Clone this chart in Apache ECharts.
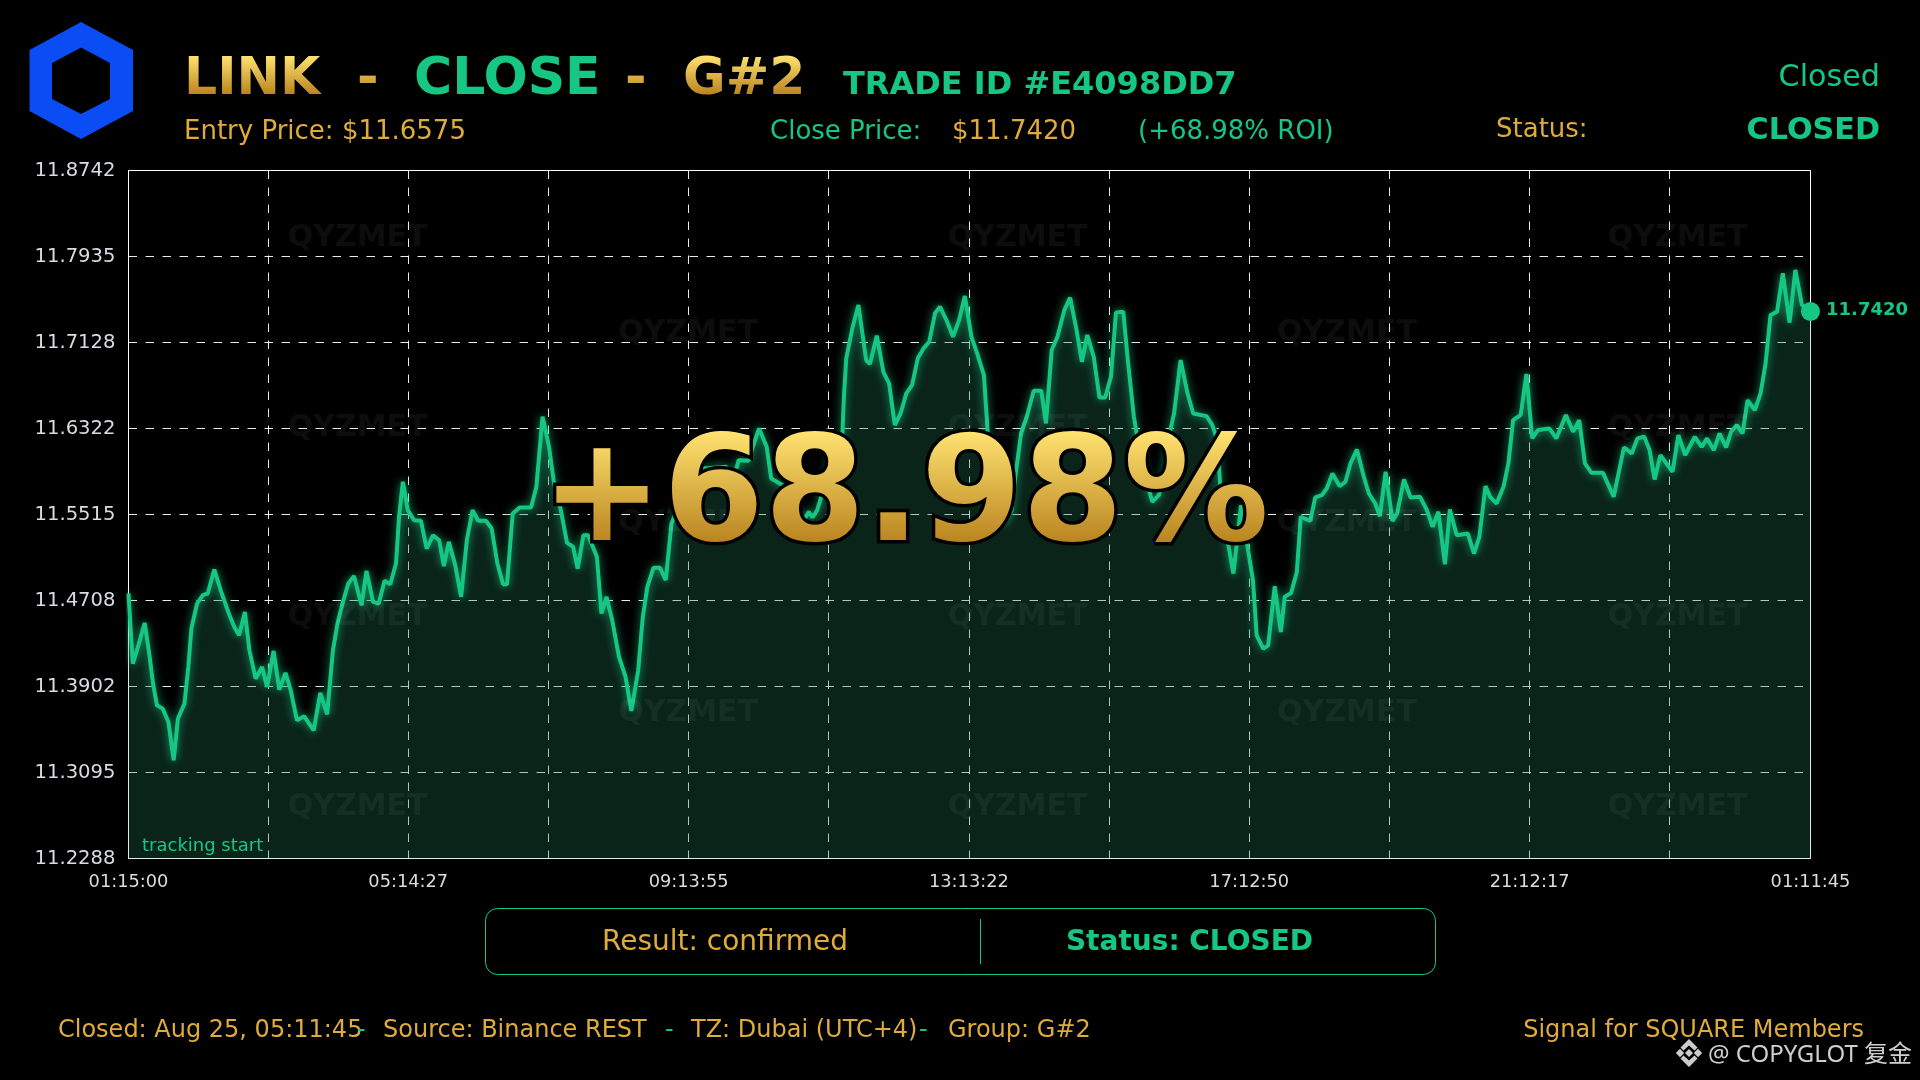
<!DOCTYPE html>
<html><head><meta charset="utf-8">
<style>html,body{margin:0;padding:0;background:#000}#c{width:1920px;height:1080px}</style>
<script src="https://cdn.jsdelivr.net/npm/echarts@6/dist/echarts.min.js"></script>
</head><body><div id="c"></div>
<script>
const xTickLabels = ['01:15:00','05:14:27','09:13:55','13:13:22','17:12:50','21:12:17','01:11:45'];
const xSpanMinutes = 1436.75;
const yTicks = [11.2288,11.3095,11.3902,11.4708,11.5515,11.6322,11.7128,11.7935,11.8742];
const minutes = [0,3.7,8.9,13.8,17.7,21.0,24.3,29.2,34.1,38.6,42.2,47.8,51.1,53.7,58.6,63.5,67.7,73.3,79.2,85.7,90.3,94.5,99.4,103.3,108.6,114.1,118.4,123.9,128.8,134.1,138.6,143.9,150.1,158.2,163.8,169.7,174.6,178.5,182.8,187.7,192.6,199.1,203.3,208.9,213.8,218.7,223.6,228.5,231.1,234.4,238.6,243.9,249.8,254.7,260.2,265.4,269.4,273.6,279.1,284.1,289.0,293.9,298.8,305.3,310.2,315.1,320.0,323.3,328.2,334.1,343.9,348.4,353.7,359.2,363.5,369.0,374.6,379.8,383.7,388.6,392.6,400.1,404.0,408.3,413.2,419.0,424.6,429.5,435.4,439.3,443.2,448.4,454.0,458.9,463.8,476.5,486.3,491.2,510.8,515.7,521.2,529.4,538.6,545.1,549.0,558.8,568.0,577.8,581.1,584.3,588.2,590.9,600.7,609.8,611.1,613.1,618.6,623.5,630.1,633.3,639.2,644.8,649.7,654.6,659.5,664.4,669.3,674.2,679.1,684.0,688.9,693.1,698.7,704.3,709.5,714.4,720.0,724.9,730.7,734.0,739.6,747.7,754.3,757.5,762.4,767.3,773.2,779.7,783.7,788.6,793.5,799.4,804.3,809.8,814.4,819.0,824.5,829.4,834.3,839.2,843.5,849.7,853.9,858.8,862.1,868.6,874.5,880.1,885.0,889.9,893.1,898.7,904.6,909.5,920.9,925.8,930.1,932.4,937.3,943.8,950.3,955.9,960.5,963.7,969.3,973.5,979.1,984.3,987.6,993.1,998.0,1001.3,1009.5,1013.7,1019.3,1023.5,1028.4,1034.6,1039.5,1043.8,1049.3,1055.2,1059.5,1065.0,1068.9,1073.8,1079.7,1083.6,1089.5,1095.1,1103.3,1109.1,1114.0,1118.9,1124.5,1128.7,1134.6,1144.1,1149.3,1153.9,1159.1,1163.1,1168.6,1174.5,1178.7,1182.7,1189.2,1194.1,1199.0,1203.9,1213.7,1219.6,1227.8,1234.0,1239.2,1244.1,1249.7,1259.5,1268.6,1277.4,1284.0,1288.9,1294.8,1299.3,1303.6,1308.5,1318.9,1323.9,1329.7,1337.9,1343.8,1348.4,1354.2,1359.1,1364.7,1368.9,1373.8,1378.7,1383.0,1389.2,1394.1,1398.4,1402.6,1408.2,1413.1,1418.9,1423.8,1429.4,1436.75];
const prices = [11.4774,11.4116,11.4304,11.4498,11.4210,11.3928,11.3725,11.3694,11.3569,11.3209,11.3600,11.3741,11.4085,11.4445,11.4680,11.4758,11.4774,11.4999,11.4789,11.4586,11.4461,11.4382,11.4601,11.4241,11.3975,11.4085,11.3897,11.4235,11.3872,11.4029,11.3866,11.3584,11.3622,11.3490,11.3841,11.3641,11.4241,11.4492,11.4680,11.4867,11.4939,11.4664,11.4986,11.4695,11.4680,11.4893,11.4861,11.5055,11.5493,11.5822,11.5556,11.5462,11.5456,11.5196,11.5321,11.5274,11.5030,11.5259,11.5040,11.4742,11.5274,11.5556,11.5456,11.5456,11.5384,11.5055,11.4861,11.4861,11.5525,11.5581,11.5581,11.5775,11.6432,11.6151,11.5806,11.5572,11.5249,11.5212,11.5008,11.5321,11.5321,11.5118,11.4586,11.4742,11.4523,11.4179,11.3991,11.3672,11.4054,11.4554,11.4836,11.5015,11.5015,11.4899,11.5431,11.5774,11.5931,11.5947,11.5962,11.5806,11.6025,11.6019,11.6322,11.6150,11.5853,11.5790,11.5555,11.5477,11.5540,11.5487,11.5555,11.5649,11.6056,11.6275,11.6620,11.6980,11.7277,11.7480,11.6964,11.6926,11.7192,11.6854,11.6745,11.6354,11.6463,11.6651,11.6729,11.6980,11.7073,11.7136,11.7402,11.7465,11.7339,11.7183,11.7339,11.7565,11.7183,11.7026,11.6823,11.6275,11.5931,11.5430,11.5555,11.5868,11.6275,11.6432,11.6676,11.6676,11.6369,11.7058,11.7183,11.7433,11.7549,11.7246,11.6948,11.7199,11.6995,11.6613,11.6613,11.6807,11.7411,11.7418,11.6933,11.6432,11.6213,11.5868,11.5634,11.5696,11.5931,11.6307,11.6463,11.6964,11.6651,11.6463,11.6438,11.6354,11.6213,11.5806,11.5368,11.4961,11.5602,11.5211,11.4900,11.4382,11.4257,11.4288,11.4842,11.4413,11.4742,11.4779,11.4977,11.5493,11.5455,11.5675,11.5696,11.5759,11.5900,11.5781,11.5822,11.5994,11.6125,11.5869,11.5712,11.5618,11.5499,11.5916,11.5455,11.5524,11.5844,11.5675,11.5681,11.5556,11.5399,11.5540,11.5049,11.5562,11.5321,11.5336,11.5149,11.5305,11.5781,11.5681,11.5618,11.5775,11.5994,11.6401,11.6448,11.6833,11.6229,11.6307,11.6322,11.6229,11.6448,11.6291,11.6401,11.5994,11.5906,11.5906,11.5681,11.6144,11.6088,11.6229,11.6244,11.6119,11.5844,11.6072,11.5916,11.6260,11.6072,11.6244,11.6150,11.6229,11.6119,11.6275,11.6144,11.6291,11.6354,11.6275,11.6588,11.6495,11.6651,11.6933,11.7387,11.7418,11.7778,11.7315,11.7809,11.7481,11.7420];
const watermarkText = 'QYZMET';

const GREEN='#16C784', GOLD='#DFAB3B', F='"DejaVu Sans"';
// Two tagged gold fills are painted with a vertical gold gradient (canvas text in zrender takes only colour strings).
const TITLE_GOLD='#dfab3c', BIG_GOLD='#dfab3d';
const goldBands={[TITLE_GOLD]:[56,95],[BIG_GOLD]:[432,545]};
const nativeFillText=CanvasRenderingContext2D.prototype.fillText;
CanvasRenderingContext2D.prototype.fillText=function(t,x,y,m){
  const band=goldBands[this.fillStyle];
  if(band){
    const gr=this.createLinearGradient(0,band[0],0,band[1]);
    gr.addColorStop(0,'#FFE270');gr.addColorStop(1,'#B8821E');
    const prev=this.fillStyle;this.fillStyle=gr;
    nativeFillText.call(this,t,x,y);
    this.fillStyle=prev;return;
  }
  return m===undefined?nativeFillText.call(this,t,x,y):nativeFillText.call(this,t,x,y,m);
};
const series=minutes.map((m,i)=>[m,prices[i]]);
const nudge=(v,i,n)=>(i===0||i===n)?v:v-0.5;
const xTicks=Array.from({length:13},(_,i)=>nudge(xSpanMinutes*i/12,i,12));
const xLabelVals=xTickLabels.map((_,i)=>nudge(xSpanMinutes*i/6,i,6));

function T(text,x,base,size,fill,o){o=o||{};
  return {type:'text',z:o.z||50,silent:true,style:Object.assign({text,x,y:base-0.265*size,fill,
    font:(o.bold?'bold ':'')+size+'px '+F,textAlign:o.align||'left',textVerticalAlign:'middle',verticalAlign:'middle'},o.style||{})};
}
const g=[];
for(const [sx,sy] of [[292,192],[831,192],[1370,192],[292,347],[831,347],[1370,347],[292,502],[831,502],[1370,502],[292,657],[831,657],[1370,657],[562,270],[1100,270],[562,425],[1100,425],[562,580],[1100,580]]){
  g.push({type:'text',z:6,silent:true,style:{text:watermarkText,x:sx*1.2245,y:sy*1.2245+3,fill:'rgba(255,255,255,0.05)',font:'bold 30px '+F,textAlign:'center',textVerticalAlign:'middle',verticalAlign:'middle'}});
}
// logo
g.push({type:'polygon',z:10,silent:true,shape:{points:[[81,22],[133,50],[133,111],[81,139],[29.5,111],[29.5,50]]},style:{fill:'#0B4DF5'}});
g.push({type:'polygon',z:11,silent:true,shape:{points:[[81,47.5],[110,63],[110,99],[81,114],[52,99],[52,63]]},style:{fill:'#000'}});
// header
g.push(T('LINK',184,94,52,TITLE_GOLD,{bold:1}));
g.push(T('-',357,94,52,TITLE_GOLD,{bold:1}));
g.push(T('CLOSE',414,94,52,GREEN,{bold:1}));
g.push(T('-',625,94,52,TITLE_GOLD,{bold:1}));
g.push(T('G#2',683,94,52,TITLE_GOLD,{bold:1}));
g.push(T('TRADE ID #E4098DD7',843,94,32,GREEN,{bold:1}));
g.push(T('Closed',1880,86,30.2,GREEN,{align:'right'}));
g.push(T('Entry Price: $11.6575',184,139,26,GOLD));
g.push(T('Close Price:',770,139,26,GREEN));
g.push(T('$11.7420',952,139,26,GOLD));
g.push(T('(+68.98% ROI)',1138,139,26,GREEN));
g.push(T('Status:',1496,137,26,GOLD));
g.push(T('CLOSED',1880,139.5,30.2,GREEN,{bold:1,align:'right'}));
g.push(T('tracking start',142,851,18,GREEN,{z:7}));
// big number
g.push(T('+68.98%',905,541,145.5,BIG_GOLD,{bold:1,align:'center',z:40,style:{stroke:'#000',lineWidth:7,strokeFirst:true}}));
// result box
g.push({type:'rect',z:10,silent:true,shape:{x:485.5,y:908.5,width:950,height:66,r:12},style:{fill:'transparent',stroke:GREEN,lineWidth:1}});
g.push({type:'line',z:10,silent:true,shape:{x1:980.5,y1:919,x2:980.5,y2:964},style:{stroke:GREEN,lineWidth:1}});
g.push(T('Result: confirmed',725,950,28,GOLD,{align:'center'}));
g.push(T('Status: CLOSED',1189.5,950,28,GREEN,{bold:1,align:'center'}));
// footer
g.push(T('Closed: Aug 25, 05:11:45',58,1037,24,GOLD));
g.push(T('-',357,1037,24,GREEN));
g.push(T('Source: Binance REST',383,1037,24,GOLD));
g.push(T('-',665,1037,24,GREEN));
g.push(T('TZ: Dubai (UTC+4)',691,1037,24,GOLD));
g.push(T('-',919,1037,24,GREEN));
g.push(T('Group: G#2',948,1037,24,GOLD));
g.push(T('Signal for SQUARE Members',1864,1037,24,GOLD,{align:'right'}));
// binance mark + handle
const poly=points=>({type:'polygon',z:10,silent:true,shape:{points},style:{fill:'#CCCCCC'}});
const dia=(cx,cy,r)=>poly([[cx,cy-r],[cx+r,cy],[cx,cy+r],[cx-r,cy]]);
g.push(dia(1689,1053,4),dia(1680,1053,4.2),dia(1698,1053,4.2));
g.push(poly([[1689,1039],[1697.5,1047.5],[1694.5,1050.5],[1689,1045.5],[1683.5,1050.5],[1680.5,1047.5]]));
g.push(poly([[1689,1067],[1697.5,1058.5],[1694.5,1055.5],[1689,1060.5],[1683.5,1055.5],[1680.5,1058.5]]));
g.push({type:'text',z:50,silent:true,style:{text:'@ COPYGLOT 复金',x:1708,y:1055,fill:'#CFCFCF',font:'24px "Noto Sans","Noto Sans CJK SC"',textAlign:'left',textVerticalAlign:'middle',verticalAlign:'middle'}});

const chart=echarts.init(document.getElementById('c'),null,{renderer:'canvas',width:1920,height:1080});
chart.setOption({
  animation:false,backgroundColor:'#000',
  grid:{show:true,left:128.5,top:170.5,width:1682,height:688,borderColor:'#fff',borderWidth:1,backgroundColor:'transparent',containLabel:false},
  xAxis:{type:'value',min:0,max:xSpanMinutes,
    axisLine:{show:false},
    axisTick:{show:false,customValues:xTicks},
    splitLine:{show:true,lineStyle:{color:'rgba(255,255,255,0.92)',width:1,type:[8.5,8.5]}},
    axisLabel:{show:true,customValues:xLabelVals,margin:15,color:'#D8DCE0',fontSize:17.8,fontFamily:F,
      formatter:v=>xTickLabels[Math.round(v/(xSpanMinutes/6))]}},
  yAxis:{type:'value',min:yTicks[0],max:yTicks[8],
    axisLine:{show:false},
    axisTick:{show:false,customValues:yTicks},
    splitLine:{show:true,lineStyle:{color:'rgba(255,255,255,0.92)',width:1,type:[8.5,8.5]}},
    axisLabel:{show:true,customValues:yTicks,margin:13,color:'#D8DCE0',fontSize:19.6,fontFamily:F,padding:[8,0,0,0],formatter:v=>v.toFixed(4)}},
  series:[
    {type:'line',data:series,showSymbol:false,symbol:'none',smooth:false,z:5,
      lineStyle:{color:GREEN,width:4,shadowColor:'rgba(22,199,132,0.8)',shadowBlur:8},
      areaStyle:{color:'rgba(33,120,87,0.3)',opacity:1},silent:true},
    {type:'scatter',data:[series[series.length-1]],symbol:'circle',symbolSize:19,clip:false,z:8,silent:true,
      itemStyle:{color:GREEN,opacity:1},
      label:{show:true,position:'right',distance:6,offset:[0,-1],color:GREEN,fontSize:18,fontWeight:'bold',fontFamily:F,formatter:p=>p.value[1].toFixed(4)}}
  ],
  graphic:{elements:g}
});
</script></body></html>
